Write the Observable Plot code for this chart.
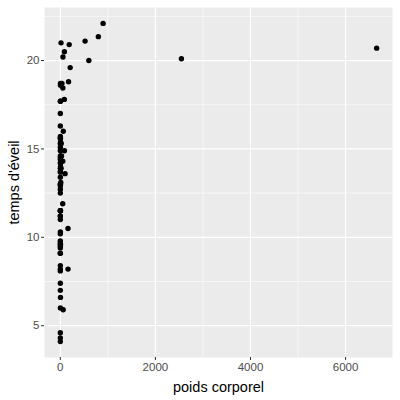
<!DOCTYPE html>
<html><head><meta charset="utf-8">
<script src="https://cdn.jsdelivr.net/npm/d3@7"></script>
<script src="https://cdn.jsdelivr.net/npm/@observablehq/plot@0.6"></script>
<style>body{margin:0;background:#fff;font-family:"Liberation Sans",Arial,sans-serif}</style>
</head><body><div id="chart"></div>
<script>
const bodywt = [50,0.48,1.35,0.019,600,3.85,20.49,0.045,14,14.8,33.5,0.728,4.75,0.42,0.06,1.0,0.005,3.5,2.95,1.7,2547,0.023,521,187,0.77,10,0.071,3.3,0.2,899.995,800,85,2.625,62,1.67,6654,0.37,6.8,0.053,0.12,0.035,0.022,0.01,0.266,1.4,0.21,0.028,2.5,55.5,52.2,162.564,100,161.499,25.235,0.55,1.1,0.021,1.62,86,53.18,1.1,60,3.6,0.32,0.044,0.743,0.075,0.148,0.122,0.92,0.101,0.205,0.048,86.25,4.5,0.112,207.501,0.9,0.104,173.33,2.0,3.38,4.23];
const awake = [11.9,7.0,9.6,9.1,20.0,9.6,15.3,17.0,13.9,21.0,18.7,14.6,14.0,11.5,13.7,15.7,14.9,6.6,18.7,6.0,20.1,4.3,21.1,20.9,13.9,13.1,9.1,11.5,14.2,22.1,21.35,17.8,17.7,16.0,14.5,20.7,4.6,13.9,9.8,9.7,11.2,11.5,4.1,9.4,13.0,16.3,9.5,15.6,20.2,14.3,8.2,13.6,10.5,14.6,13.7,13.0,12.5,10.3,20.5,18.45,12.9,5.9,18.6,11.0,15.3,14.4,15.6,12.7,13.4,7.4,10.2,8.1,11.2,14.9,15.4,8.2,19.6,8.4,15.1,18.8,17.7,11.5,14.2];
const xTicks = [0,2000,4000,6000];
const xMinor = [1000,3000,5000];
const yTicks = [5,10,15,20];
const yMinor = [7.5,12.5,17.5,22.5];
const data = bodywt.map((b,i)=>({b, a: awake[i]}));

const chart = Plot.plot({
  width: 400, height: 400,
  marginLeft: 44, marginRight: 8, marginTop: 7, marginBottom: 43,
  style: {fontFamily: '"Liberation Sans", Arial, sans-serif', background: "#fff"},
  x: {domain: [-332.7, 6986.7]},
  y: {domain: [3.2, 23.0]},
  marks: [
    Plot.frame({fill: "#EBEBEB", stroke: null}),
    Plot.ruleX(xMinor, {stroke: "#fff", strokeWidth: 0.6}),
    Plot.ruleY(yMinor, {stroke: "#fff", strokeWidth: 0.6}),
    Plot.ruleX(xTicks, {stroke: "#fff", strokeWidth: 1.2}),
    Plot.ruleY(yTicks, {stroke: "#fff", strokeWidth: 1.2}),
    Plot.dot(data, {x: "b", y: "a", r: 2.7, fill: "#000", stroke: null}),
    Plot.axisX({ticks: xTicks, tickFormat: d => String(d), tickSize: 3, tickPadding: 2, fontSize: 11.5, color: "#4D4D4D", stroke: "#333",
      label: "poids corporel", labelAnchor: "center", labelArrow: "none", labelOffset: 34}),
    Plot.axisY({ticks: yTicks, tickFormat: d => String(d), tickSize: 3, tickPadding: 2, fontSize: 11.5, color: "#4D4D4D", stroke: "#333",
      label: "temps d'éveil", labelAnchor: "center", labelArrow: "none", labelOffset: 36})
  ]
});
chart.querySelectorAll('[aria-label="x-axis label"] text, [aria-label="y-axis label"] text').forEach(t=>{t.setAttribute("fill","#000");t.style.fontSize="14.5px";});
document.getElementById("chart").appendChild(chart);
</script></body></html>
